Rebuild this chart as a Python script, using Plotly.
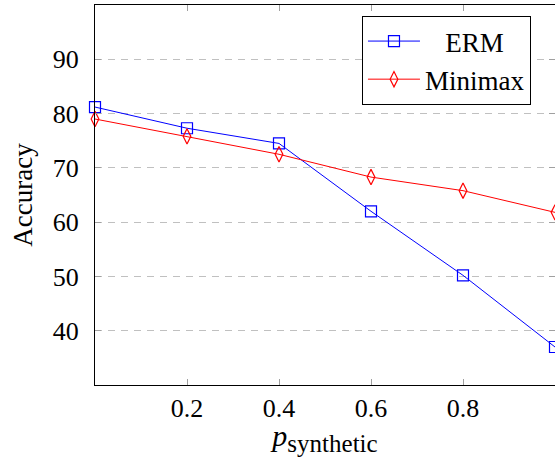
import plotly.graph_objects as go

p_synthetic = [0.0, 0.2, 0.4, 0.6, 0.8, 1.0]
erm = [81.2, 77.3, 74.5, 62.0, 50.2, 37.0]
minimax = [79.0, 75.8, 72.5, 68.3, 65.8, 61.8]
x_ticks = [0.2, 0.4, 0.6, 0.8]
y_ticks = [40, 50, 60, 70, 80, 90]

font_family = "Liberation Serif, DejaVu Serif, serif"

fig = go.Figure()
fig.add_trace(go.Scatter(
    x=p_synthetic, y=erm, name="&nbsp;&nbsp;&nbsp;ERM", mode="lines+markers",
    line=dict(color="blue", width=1),
    marker=dict(symbol="square-open", size=11, color="blue", line=dict(width=1.2)),
    cliponaxis=False,
))
fig.add_trace(go.Scatter(
    x=p_synthetic, y=minimax, name="Minimax", mode="lines+markers",
    line=dict(color="red", width=1),
    marker=dict(symbol="diamond-tall-open", size=11, color="red", line=dict(width=1.2)),
    cliponaxis=False,
))

fig.update_layout(
    width=555, height=457,
    margin=dict(l=95, r=0, t=5, b=72),
    paper_bgcolor="white", plot_bgcolor="white",
    font=dict(family=font_family, size=26, color="black"),
    showlegend=True,
    legend=dict(
        x=0.5804, y=0.971, xanchor="left", yanchor="top",
        bgcolor="white", bordercolor="black", borderwidth=1,
        font=dict(size=27, family=font_family),
        tracegroupgap=0, itemwidth=52,
    ),
)
fig.update_xaxes(
    range=[0, 1], tickvals=x_ticks, ticktext=[str(v) for v in x_ticks],
    showline=True, linecolor="black", linewidth=1, mirror="ticks",
    ticks="inside", ticklen=6, tickcolor="#a0a0a0",
    ticklabelstandoff=0,
    showgrid=False, zeroline=False,
    title=dict(text='<i>p</i><sub><span style="font-size:25px">synthetic</span></sub>',
               font=dict(size=30), standoff=8),
)
fig.update_yaxes(
    range=[30, 100], tickvals=y_ticks, ticktext=[str(v) for v in y_ticks],
    showline=True, linecolor="black", linewidth=1, mirror="ticks",
    ticks="inside", ticklen=6, tickcolor="#a0a0a0",
    ticklabelstandoff=10,
    showgrid=True, gridcolor="#c0c0c0", griddash="7px,6px", gridwidth=1,
    zeroline=False,
    title=dict(text="Accuracy", font=dict(size=27), standoff=12),
)

fig.write_html("out.html", config={"displayModeBar": False},
               post_script="document.body.style.margin='0';")
